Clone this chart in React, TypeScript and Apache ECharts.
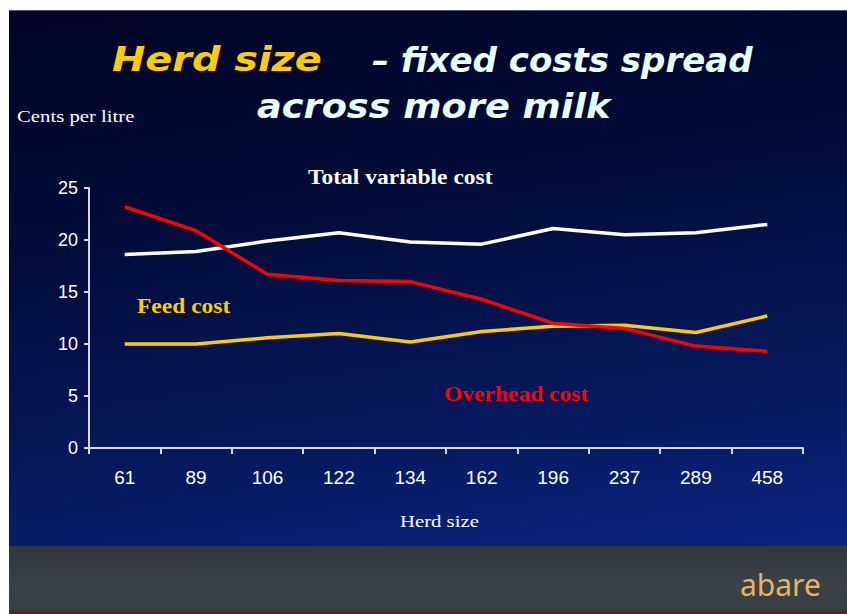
import React, { useEffect, useRef } from "react";
import * as echarts from "echarts";

const herdSizes = ["61", "89", "106", "122", "134", "162", "196", "237", "289", "458"];
const totalVariableCost = [18.6, 18.9, 19.9, 20.7, 19.8, 19.6, 21.1, 20.5, 20.7, 21.5];
const feedCost = [10.0, 10.0, 10.6, 11.0, 10.2, 11.2, 11.7, 11.8, 11.1, 12.7];
const overheadCost = [23.2, 20.9, 16.7, 16.1, 16.0, 14.3, 12.0, 11.5, 9.8, 9.3];
const yMin = 0;
const yMax = 25;
const yInterval = 5;

const serif = '"Liberation Serif", "DejaVu Serif", serif';
const titleFont = '"DejaVu Sans", "Liberation Sans", sans-serif';

function txt(
  text: string,
  x: number,
  y: number,
  opts: { size: number; color: string; family: string; weight?: string; style?: string; scaleX?: number }
) {
  return {
    type: "text",
    x,
    y,
    scaleX: opts.scaleX ?? 1,
    silent: true,
    style: {
      text,
      fill: opts.color,
      fontSize: opts.size,
      fontFamily: opts.family,
      fontWeight: opts.weight ?? "normal",
      fontStyle: opts.style ?? "normal",
      align: "left",
      verticalAlign: "middle",
      textAlign: "left",
      textVerticalAlign: "middle",
    },
  };
}

export default function App() {
  const ref = useRef<HTMLDivElement>(null);

  useEffect(() => {
    if (!ref.current) return;
    const chart = echarts.init(ref.current, null, { renderer: "svg" });
    const axisColor = "#d6d8e6";
    chart.setOption({
      animation: false,
      backgroundColor: "transparent",
      grid: { left: 89, right: 44, top: 188, bottom: 166 },
      xAxis: {
        type: "category",
        data: herdSizes,
        boundaryGap: true,
        axisLine: { show: true, lineStyle: { color: axisColor, width: 2 } },
        axisTick: { show: true, alignWithLabel: false, length: 6, lineStyle: { color: axisColor, width: 2 } },
        axisLabel: {
          color: "#ffffff",
          fontSize: 19,
          fontFamily: '"Liberation Sans Narrow", "Liberation Sans", sans-serif',
          margin: 20,
        },
        splitLine: { show: false },
      },
      yAxis: {
        type: "value",
        min: yMin,
        max: yMax,
        interval: yInterval,
        axisLine: { show: true, lineStyle: { color: axisColor, width: 2 } },
        axisTick: { show: true, length: 5, lineStyle: { color: axisColor, width: 2 } },
        axisLabel: {
          color: "#ffffff",
          fontSize: 18,
          fontFamily: '"Liberation Sans Narrow", "Liberation Sans", sans-serif',
          margin: 11,
        },
        splitLine: { show: false },
      },
      series: [
        {
          name: "Total variable cost",
          type: "line",
          data: totalVariableCost,
          symbol: "none",
          lineStyle: { color: "#ffffff", width: 3.5 },
          z: 2,
        },
        {
          name: "Feed cost",
          type: "line",
          data: feedCost,
          symbol: "none",
          lineStyle: { color: "#ffcc00", width: 3.5 },
          z: 3,
        },
        {
          name: "Overhead cost",
          type: "line",
          data: overheadCost,
          symbol: "none",
          lineStyle: { color: "#ff0000", width: 3.5 },
          z: 4,
        },
      ],
      graphic: [
        txt("Herd size", 112, 60, { size: 34, color: "#ffcc00", family: titleFont, weight: "bold", style: "italic", scaleX: 1.17 }),
        txt("– fixed costs spread", 372, 60, { size: 34, color: "#e8ffff", family: titleFont, weight: "bold", style: "italic", scaleX: 1.0 }),
        txt("across more milk", 257, 106, { size: 34, color: "#e8ffff", family: titleFont, weight: "bold", style: "italic", scaleX: 1.08 }),
        txt("Cents per litre", 17, 116, { size: 17, color: "#ffffff", family: serif, scaleX: 1.22 }),
        txt("Total variable cost", 308, 177, { size: 21, color: "#ffffff", family: serif, weight: "bold", scaleX: 1.12 }),
        txt("Feed cost", 137, 306, { size: 21, color: "#ffcc00", family: serif, weight: "bold", scaleX: 1.12 }),
        txt("Overhead cost", 444, 394, { size: 21, color: "#ff0000", family: serif, weight: "bold", scaleX: 1.12 }),
        txt("Herd size", 400, 521, { size: 17, color: "#ffffff", family: serif, scaleX: 1.22 }),
        txt("abare", 740, 584, { size: 30, color: "#e9b458", family: '"Noto Sans", "DejaVu Sans", sans-serif', scaleX: 1.0 }),
      ],
    });
    return () => chart.dispose();
  }, []);

  return (
    <div style={{ position: "absolute", left: 0, top: 0, width: 847, height: 614, background: "#ffffff", overflow: "hidden" }}>
      <div
        style={{
          position: "absolute",
          left: 9,
          top: 10,
          width: 838,
          height: 536,
          background: "linear-gradient(172deg, #000526 0%, #020c38 35%, #06185a 70%, #0b2480 100%)",
          borderTop: "1px solid #5a4f7a",
        }}
      />
      <div
        style={{
          position: "absolute",
          left: 9,
          top: 546,
          width: 838,
          height: 65,
          background: "linear-gradient(180deg, #2f363c 0%, #3a4147 60%, #363d43 100%)",
        }}
      />
      <div style={{ position: "absolute", left: 9, top: 611, width: 838, height: 3, background: "#8a0c0c" }} />
      <div ref={ref} style={{ position: "absolute", left: 0, top: 0, width: 847, height: 614 }} />
    </div>
  );
}
